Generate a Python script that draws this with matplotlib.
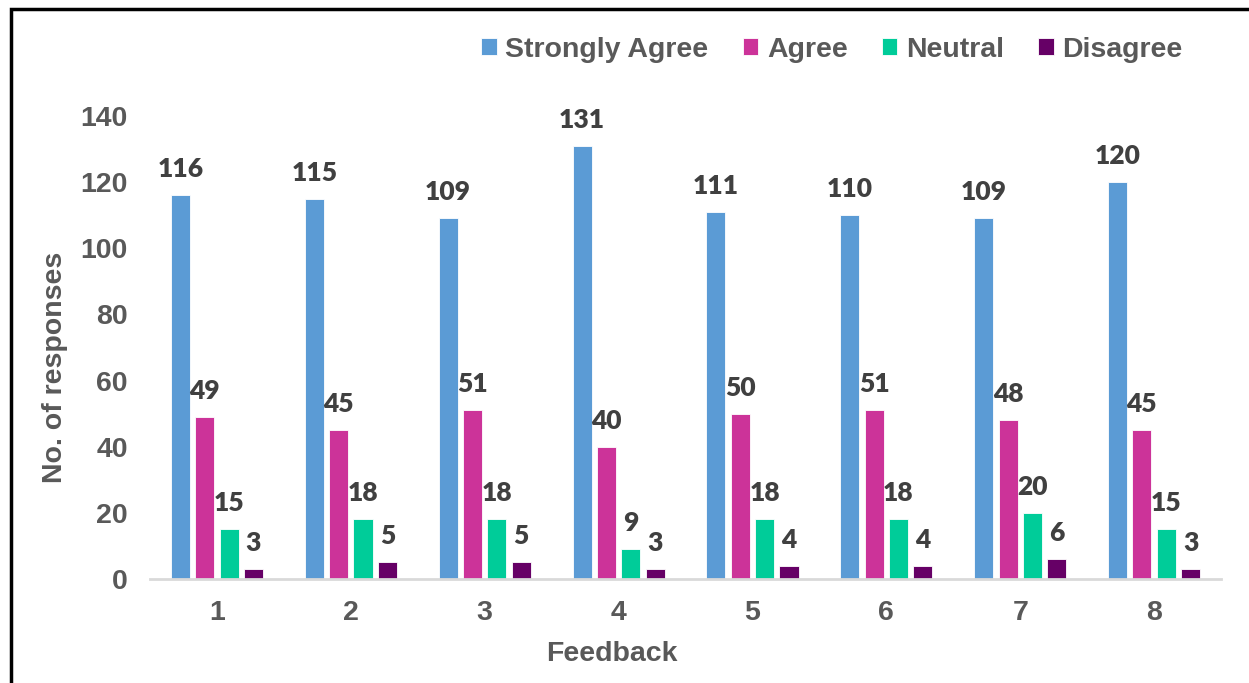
import matplotlib.pyplot as plt
import matplotlib.patches as patches
import numpy as np

# data
categories = ['1', '2', '3', '4', '5', '6', '7', '8']
series_names = ['Strongly Agree', 'Agree', 'Neutral', 'Disagree']
strongly_agree = [116, 115, 109, 131, 111, 110, 109, 120]
agree = [49, 45, 51, 40, 50, 51, 48, 45]
neutral = [15, 18, 18, 9, 18, 18, 20, 15]
disagree = [3, 5, 5, 3, 4, 4, 6, 3]
y_ticks = [0, 20, 40, 60, 80, 100, 120, 140]

colors = ['#5B9BD5', '#CC3399', '#00CC99', '#660066']
text_grey = '#595959'
label_grey = '#404040'

fig = plt.figure(figsize=(12.49, 6.83), dpi=100)
ax = fig.add_axes([0.1201, 0.1523, 0.8575, 0.6779])

x = np.arange(len(categories))
width = 0.142
step = 0.182
all_series = [strongly_agree, agree, neutral, disagree]

for i, (name, vals, col) in enumerate(zip(series_names, all_series, colors)):
    offs = (i - 1.5) * step
    bars = ax.bar(x + offs, vals, width, color=col, label=name,
                  edgecolor='white', linewidth=0.6)
    for b, v in zip(bars, vals):
        ax.annotate(str(v), (b.get_x() + b.get_width() / 2, v),
                    xytext=(0, 13), textcoords='offset points',
                    ha='center', va='baseline', fontsize=19,
                    fontweight='heavy', color=label_grey, family='Lato')

ax.set_xlim(-0.5, len(categories) - 0.5)
ax.set_ylim(0, 140)
ax.set_yticks(y_ticks)
ax.set_xticks(x)
ax.set_xticklabels(categories)

for s in ['left', 'right', 'top']:
    ax.spines[s].set_visible(False)
ax.spines['bottom'].set_color('#D9D9D9')
ax.spines['bottom'].set_linewidth(2)

ax.tick_params(axis='both', length=0, labelsize=20.5, labelcolor=text_grey)
ax.tick_params(axis='y', pad=16)
ax.tick_params(axis='x', pad=15)
for lbl in ax.get_xticklabels() + ax.get_yticklabels():
    lbl.set_fontweight('bold')
    lbl.set_family('Liberation Sans')

ax.set_ylabel('No. of responses', fontsize=20.5, fontweight='bold',
              color=text_grey, family='Liberation Sans')
ax.yaxis.set_label_coords(-0.077, 0.458)
ax.set_xlabel('Feedback', fontsize=20.5, fontweight='bold',
              color=text_grey, family='Liberation Sans')
ax.xaxis.set_label_coords(0.431, -0.135)

leg = fig.legend(loc='center', bbox_to_anchor=(0.666, 0.927), ncol=4,
                 frameon=False, handlelength=0.55, handleheight=0.55,
                 handletextpad=0.3, columnspacing=1.2,
                 prop={'family': 'Liberation Sans', 'weight': 'bold', 'size': 20.5})
for t in leg.get_texts():
    t.set_color(text_grey)

# outer border (cropped on the right and bottom like the source)
fig.patches.append(patches.Rectangle((0.0085, -0.05), 1.05, 1.037,
                                     transform=fig.transFigure, fill=False,
                                     edgecolor='black', linewidth=2.5))

fig.savefig('out.png', dpi=100)
